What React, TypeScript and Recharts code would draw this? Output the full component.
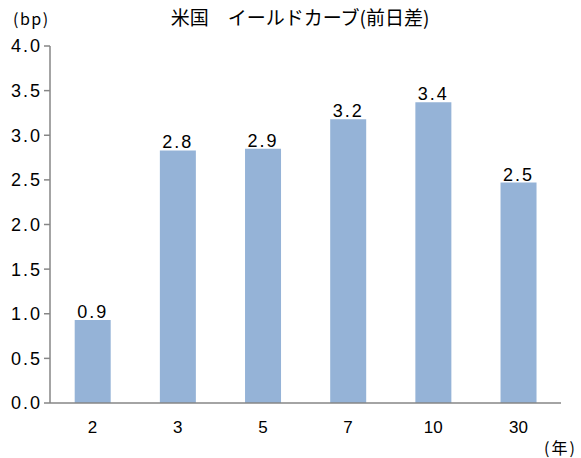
import React from 'react';
import { BarChart, Bar, XAxis, YAxis, LabelList } from 'recharts';

const categories = ['2', '3', '5', '7', '10', '30'];
const changes = [0.93, 2.83, 2.85, 3.18, 3.37, 2.47];
const yTicks = [0, 0.5, 1, 1.5, 2, 2.5, 3, 3.5, 4];

const data = categories.map((c, i) => ({ name: c, value: changes[i] }));

const numFont = "'Liberation Sans', sans-serif";
const jpFont = "'Noto Sans CJK JP', sans-serif";

export default function App() {
  return (
    <div style={{ position: 'absolute', left: 0, top: 0, width: 581, height: 458, background: '#fff' }}>
      <div style={{ position: 'absolute', left: 160, top: 6, width: 280, textAlign: 'center', fontFamily: jpFont, fontSize: 19, lineHeight: '22px', whiteSpace: 'nowrap' }}>
        米国　イールドカーブ(前日差)
      </div>
      <div style={{ position: 'absolute', left: 13, top: 7, fontFamily: jpFont, fontSize: 16, lineHeight: '22px', letterSpacing: 1.5 }}>(bp)</div>
      <div style={{ position: 'absolute', left: 544, top: 436, fontFamily: jpFont, fontSize: 16, lineHeight: '22px', letterSpacing: 2 }}>(年)</div>
      <BarChart width={581} height={458} data={data} margin={{ top: 46, right: 20, left: 0, bottom: 0 }} barCategoryGap="29%">
        <XAxis dataKey="name" xAxisId="bottom" height={55} tickLine={false} axisLine={{ stroke: '#868686', strokeWidth: 1.5 }}
          tick={{ fill: '#000', fontSize: 17, fontFamily: numFont }} dy={10} />
        <XAxis dataKey="name" xAxisId="top" orientation="top" height={0} tick={false} tickLine={false} axisLine={{ stroke: '#000', strokeWidth: 1.5 }} />
        <YAxis yAxisId="left" domain={[0, 4]} ticks={yTicks} interval={0} width={50} tickSize={6}
          tickFormatter={(v: number) => v.toFixed(1)}
          axisLine={{ stroke: '#868686', strokeWidth: 1.5 }} tickLine={{ stroke: '#868686', strokeWidth: 1.5 }}
          tick={{ fill: '#000', fontSize: 18, fontFamily: numFont, letterSpacing: 2 }} />
        <YAxis yAxisId="right" orientation="right" domain={[0, 4]} width={0} tick={false} tickLine={false} axisLine={{ stroke: '#000', strokeWidth: 1.5 }} />
        <Bar dataKey="value" xAxisId="bottom" yAxisId="left" fill="#95B3D7" isAnimationActive={false}>
          <LabelList dataKey="value" position="top" offset={2}
            formatter={(v: number) => v.toFixed(1)}
            style={{ fill: '#000', fontSize: 18, fontFamily: numFont, letterSpacing: 2 }} />
        </Bar>
      </BarChart>
    </div>
  );
}
